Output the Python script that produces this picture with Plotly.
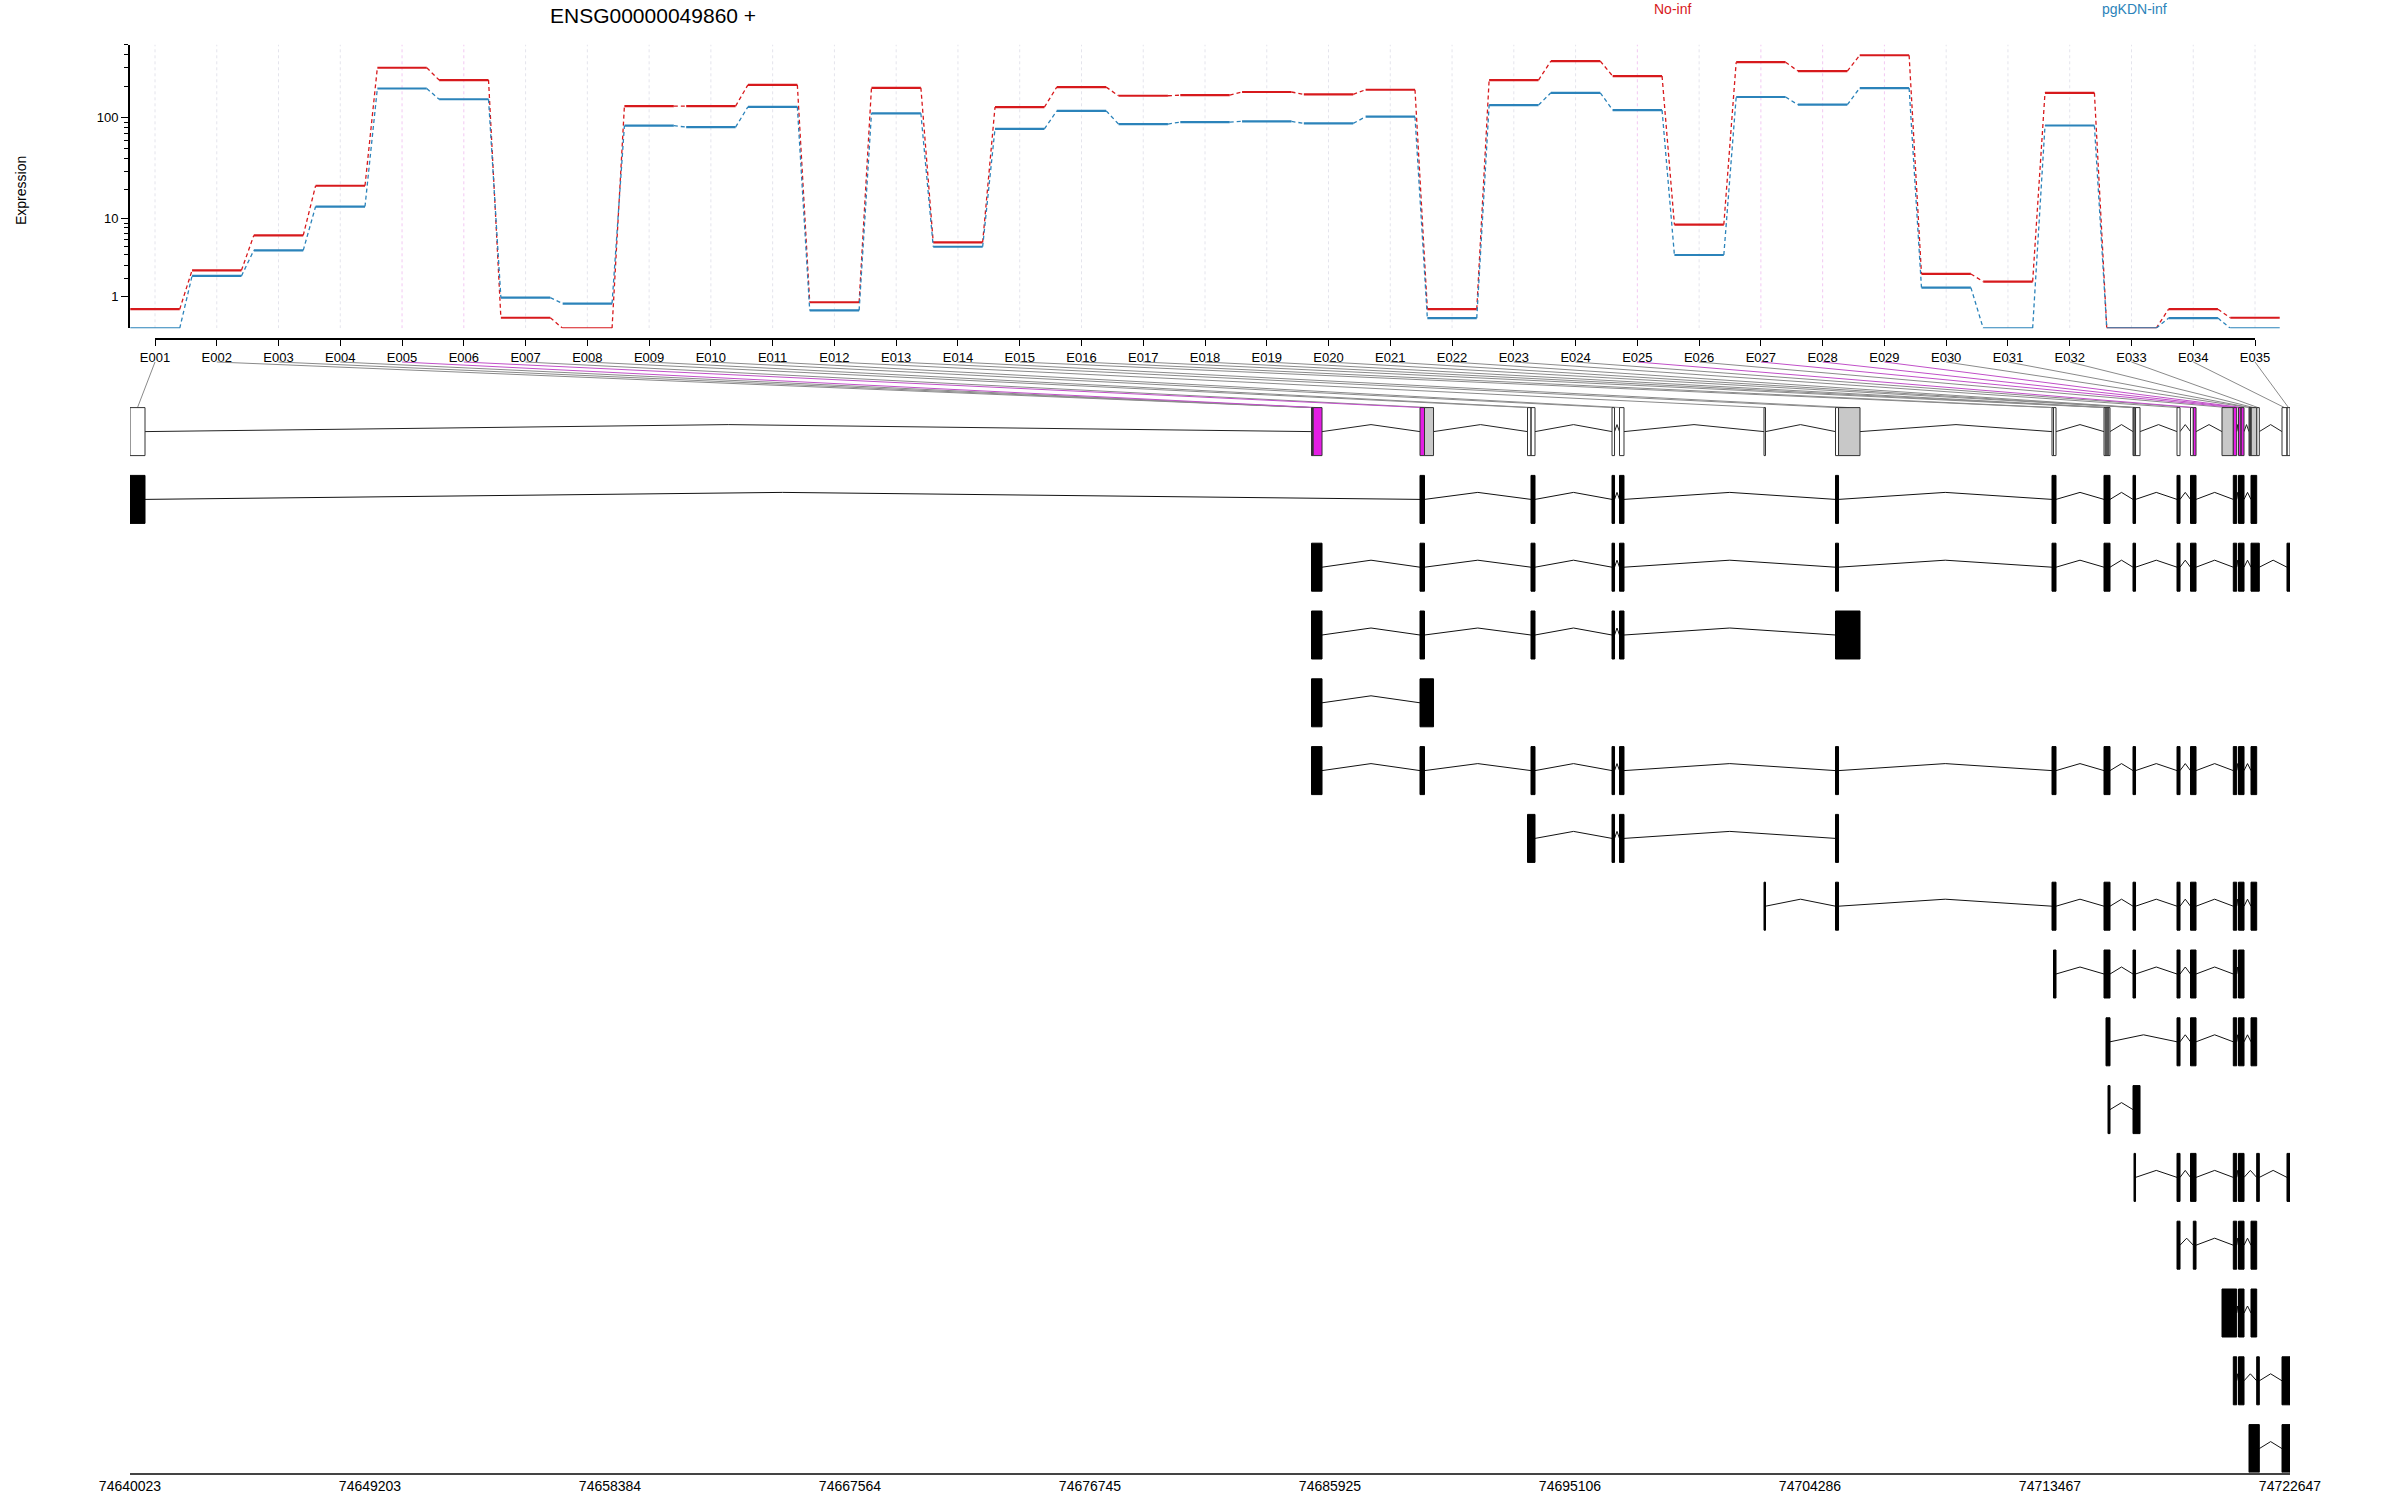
import math
import plotly.graph_objects as go

# ---------------- data ----------------
gene_id = "ENSG00000049860 +"
conditions = ["No-inf", "pgKDN-inf"]
exon_ids = [f"E{i:03d}" for i in range(1, 36)]

no_inf = [0.52, 2.56, 6.66, 21.7, 300, 229, 0.26, 0, 129, 129, 206, 0.77, 193, 5.58,
          126, 196, 162, 164, 176, 167, 185, 0.52, 229, 347, 250, 8.68, 339, 279, 395,
          2.29, 1.78, 173, 0, 0.52, 0.26]
pgkdn_inf = [0, 2.15, 4.52, 13.4, 190, 150, 0.96, 0.72, 83.6, 81, 127, 0.48, 110, 4.97,
             78, 116, 86.7, 90.6, 92, 88, 102, 0.25, 132, 173, 118, 3.98, 157.6, 133, 192,
             1.44, 0, 84, 0, 0.25, 0]

bin_start = [74640023, 74685218, 74685237, 74685256, 74685283, 74689368, 74689540,
             74693480, 74693614, 74696713, 74696999, 74702527, 74705262, 74705377,
             74713543, 74713601, 74715532, 74715609, 74715685, 74716642, 74716680,
             74716738, 74718325, 74718841, 74718948, 74720046, 74720478, 74720677,
             74720773, 74721079, 74721117, 74721155, 74721373, 74722341, 74722532]
bin_end = [74640597, 74685237, 74685256, 74685283, 74685620, 74689540, 74689885,
           74693614, 74693767, 74696809, 74697171, 74702584, 74705377, 74706199,
           74713601, 74713696, 74715609, 74715685, 74715762, 74716680, 74716738,
           74716910, 74718440, 74718948, 74719052, 74720478, 74720608, 74720773,
           74720888, 74721117, 74721155, 74721373, 74721473, 74722532, 74722647]
bin_status = ["none", "none", "none", "none", "sig", "sig", "tested", "none", "none", "none",
              "none", "none", "none", "tested", "none", "none", "tested", "tested", "tested",
              "none", "none", "none", "none", "none", "sig", "tested", "sig", "sig", "sig",
              "tested", "tested", "tested", "none", "none", "none"]

transcripts = [
    ["E001", "E006", "E009", "E010", "E011", "E013", "E015", "E016", "E017", "E018", "E019",
     "E020", "E021", "E023", "E024", "E025", "E027", "E028", "E029", "E032"],
    ["E002", "E003", "E004", "E005", "E006", "E009", "E010", "E011", "E013", "E015", "E016",
     "E017", "E018", "E019", "E020", "E021", "E023", "E024", "E025", "E027", "E028", "E029",
     "E032", "E033", "E035"],
    ["E002", "E003", "E004", "E005", "E006", "E009", "E010", "E011", "E013", "E014"],
    ["E002", "E003", "E004", "E005", "E006", "E007"],
    ["E002", "E003", "E004", "E005", "E006", "E009", "E010", "E011", "E013", "E015", "E016",
     "E017", "E018", "E019", "E020", "E021", "E023", "E024", "E025", "E027", "E028", "E029",
     "E032"],
    ["E008", "E009", "E010", "E011", "E013"],
    ["E012", "E013", "E015", "E016", "E017", "E018", "E019", "E020", "E021", "E023", "E024",
     "E025", "E027", "E028", "E029", "E032"],
    ["E016", "E017", "E018", "E019", "E020", "E021", "E023", "E024", "E025", "E027", "E028",
     "E029"],
    ["E018", "E019", "E023", "E024", "E025", "E027", "E028", "E029", "E032"],
    ["E019", "E020", "E021", "E022"],
    ["E021", "E023", "E024", "E025", "E027", "E028", "E029", "E033", "E035"],
    ["E023", "E025", "E027", "E028", "E029", "E032"],
    ["E026", "E027", "E028", "E029", "E032"],
    ["E027", "E028", "E029", "E033", "E034", "E035"],
    ["E030", "E031", "E032", "E033", "E034", "E035"],
]

genome_ticks = [74640023, 74649203, 74658384, 74667564, 74676745, 74685925, 74695106,
                74704286, 74713467, 74722647]
y_major = [1, 10, 100]
y_minor = [2, 3, 4, 5, 6, 7, 8, 9, 20, 30, 40, 50, 60, 70, 80, 90, 200, 300, 400, 500]

# ---------------- styling / layout constants ----------------
W, H = 2400, 1500
FONT = "Liberation Sans, Arial, Helvetica, sans-serif"
RED, BLUE = "#D7191C", "#2B83BA"
MAGENTA_FILL, GREY_FILL = "#E41EE4", "#C8C8C8"
MAGENTA_LINE, GREY_LINE = "#C050C8", "#8A8A8A"

# top panel
EX_FIRST_PX, EX_LAST_PX = 155, 2255
TOP_X_PX = (130, 2280)
TOP_Y_PX = (44.5, 328.3)
AXIS_X_Y_PX = 339
spacing = (EX_LAST_PX - EX_FIRST_PX) / 34.0
x_rng = [1 + (TOP_X_PX[0] - EX_FIRST_PX) / spacing, 35 + (TOP_X_PX[1] - EX_LAST_PX) / spacing]
y_top = math.log10(501)

# bottom panel
G_X_PX = (130, 2290)
ROW0_PX, ROW_PITCH = 431.6, 67.8
G_Y_PX = (350, 1472.5)
r_top = (G_Y_PX[0] - ROW0_PX) / ROW_PITCH
r_bot = (G_Y_PX[1] - ROW0_PX) / ROW_PITCH
HALF = 24.0 / ROW_PITCH
CARET = 7.0 / ROW_PITCH
LABEL_BOTTOM_R = (362 - ROW0_PX) / ROW_PITCH
g0, g1 = genome_ticks[0], genome_ticks[-1]


def ylog(v):
    return math.log10(v + 1)


def px_to_genome(px):
    return g0 + (px - G_X_PX[0]) * (g1 - g0) / (G_X_PX[1] - G_X_PX[0])


fig = go.Figure()

# dotted vertical guides
sig_set = {exon_ids[i] for i, s in enumerate(bin_status) if s == "sig"}
for colr, want in (("#E4E4EC", False), ("#F2C8F2", True)):
    xs, ys = [], []
    for i, e in enumerate(exon_ids):
        if (e in sig_set) == want:
            xs += [i + 1, i + 1, None]
            ys += [0, y_top, None]
    fig.add_trace(go.Scatter(x=xs, y=ys, mode="lines", xaxis="x", yaxis="y",
                             line=dict(color=colr, width=1, dash="dot"),
                             hoverinfo="skip", showlegend=False))

# expression profiles
for vals, colr in ((no_inf, RED), (pgkdn_inf, BLUE)):
    xs, ys, dx, dy = [], [], [], []
    for i, v in enumerate(vals):
        c = i + 1
        xs += [c - 0.4, c + 0.4, None]
        ys += [ylog(v), ylog(v), None]
        if i < len(vals) - 1:
            dx += [c + 0.4, c + 1 - 0.4, None]
            dy += [ylog(v), ylog(vals[i + 1]), None]
    fig.add_trace(go.Scatter(x=dx, y=dy, mode="lines", xaxis="x", yaxis="y",
                             line=dict(color=colr, width=1.3, dash="4px,3px"),
                             hoverinfo="skip", showlegend=False))
    fig.add_trace(go.Scatter(x=xs, y=ys, mode="lines", xaxis="x", yaxis="y",
                             line=dict(color=colr, width=2.2),
                             hoverinfo="skip", showlegend=False))

# dummy trace to hold the exon label axis
fig.add_trace(go.Scatter(x=[1, 35], y=[0, 0], mode="markers", xaxis="x2", yaxis="y",
                         marker=dict(opacity=0), hoverinfo="skip", showlegend=False))

# connectors from exon labels to gene model bins
for colr, want in ((GREY_LINE, False), (MAGENTA_LINE, True)):
    xs, ys = [], []
    for i, e in enumerate(exon_ids):
        if (bin_status[i] == "sig") == want:
            lab_px = EX_FIRST_PX + i * spacing
            xs += [px_to_genome(lab_px), (bin_start[i] + bin_end[i]) / 2, None]
            ys += [LABEL_BOTTOM_R, -HALF, None]
    fig.add_trace(go.Scatter(x=xs, y=ys, mode="lines", xaxis="x3", yaxis="y3",
                             line=dict(color=colr, width=1),
                             hoverinfo="skip", showlegend=False))


def caret_lines(starts, ends, row):
    xs, ys = [], []
    for k in range(len(starts) - 1):
        a, b = ends[k], starts[k + 1]
        if b > a:
            xs += [a, (a + b) / 2, b, None]
            ys += [row, row - CARET, row, None]
    return xs, ys


def boxes(starts, ends, row):
    xs, ys = [], []
    for a, b in zip(starts, ends):
        xs += [a, b, b, a, a, None]
        ys += [row - HALF, row - HALF, row + HALF, row + HALF, row - HALF, None]
    return xs, ys


# gene model
ix, iy = caret_lines(bin_start, bin_end, 0)
fig.add_trace(go.Scatter(x=ix, y=iy, mode="lines", xaxis="x3", yaxis="y3",
                         line=dict(color="#222222", width=1), hoverinfo="skip", showlegend=False))
for status, fillc in (("none", "white"), ("tested", GREY_FILL), ("sig", MAGENTA_FILL)):
    st = [bin_start[i] for i in range(35) if bin_status[i] == status]
    en = [bin_end[i] for i in range(35) if bin_status[i] == status]
    bx, by = boxes(st, en, 0)
    fig.add_trace(go.Scatter(x=bx, y=by, mode="lines", fill="toself", fillcolor=fillc,
                             xaxis="x3", yaxis="y3", line=dict(color="#333333", width=1),
                             hoverinfo="skip", showlegend=False))

# transcripts
for t, members in enumerate(transcripts):
    row = t + 1
    idx = sorted(exon_ids.index(e) for e in members)
    st, en = [], []
    for i in idx:
        if en and bin_start[i] <= en[-1] + 1 and (i - 1) in idx:
            en[-1] = bin_end[i]
        else:
            st.append(bin_start[i])
            en.append(bin_end[i])
    ix, iy = caret_lines(st, en, row)
    fig.add_trace(go.Scatter(x=ix, y=iy, mode="lines", xaxis="x3", yaxis="y3",
                             line=dict(color="#111111", width=1),
                             hoverinfo="skip", showlegend=False))
    bx, by = boxes(st, en, row)
    fig.add_trace(go.Scatter(x=bx, y=by, mode="lines", fill="toself", fillcolor="black",
                             xaxis="x3", yaxis="y3", line=dict(color="black", width=1),
                             hoverinfo="skip", showlegend=False))

fig.update_layout(
    template="none",
    autosize=False,
    width=W, height=H,
    margin=dict(l=0, r=0, t=0, b=0, pad=0, autoexpand=False),
    paper_bgcolor="white", plot_bgcolor="rgba(0,0,0,0)",
    font=dict(family=FONT, color="black", size=13),
    showlegend=False,
    xaxis=dict(domain=[TOP_X_PX[0] / W, TOP_X_PX[1] / W], range=x_rng, anchor="y",
               visible=False, fixedrange=True, automargin=False),
    yaxis=dict(domain=[1 - TOP_Y_PX[1] / H, 1 - TOP_Y_PX[0] / H], range=[0, y_top],
               anchor="x", showline=True, linecolor="black", linewidth=2,
               ticks="outside", ticklen=7, tickwidth=1, tickcolor="black",
               tickmode="array", tickvals=[ylog(v) for v in y_major],
               ticktext=[str(v) for v in y_major], tickfont=dict(size=13),
               minor=dict(tickmode="array", tickvals=[ylog(v) for v in y_minor],
                          ticks="outside", ticklen=4, tickcolor="black", showgrid=False),
               showgrid=False, zeroline=False, fixedrange=True, automargin=False),
    xaxis2=dict(domain=[EX_FIRST_PX / W, EX_LAST_PX / W], range=[1, 35], anchor="free",
                position=1 - AXIS_X_Y_PX / H, showline=True, linecolor="black",
                linewidth=2, ticks="outside", ticklen=6, tickwidth=1, tickcolor="black",
                tickmode="array", tickvals=list(range(1, 36)), ticktext=exon_ids,
                tickfont=dict(size=13), tickangle=0, showgrid=False, zeroline=False,
                fixedrange=True, automargin=False),
    xaxis3=dict(domain=[G_X_PX[0] / W, G_X_PX[1] / W], range=[g0, g1], anchor="y3",
                showline=True, linecolor="#444444", linewidth=2, ticks="",
                tickmode="array", tickvals=genome_ticks,
                ticktext=[str(v) for v in genome_ticks], tickfont=dict(size=14),
                tickangle=0, showgrid=False, zeroline=False, fixedrange=True,
                automargin=False),
    yaxis3=dict(domain=[1 - G_Y_PX[1] / H, 1 - G_Y_PX[0] / H], range=[r_bot, r_top],
                anchor="x3", visible=False, fixedrange=True, automargin=False),
    annotations=[
        dict(text=gene_id, xref="paper", yref="paper", x=653 / W, y=1 - 15 / H,
             xanchor="center", yanchor="middle", showarrow=False,
             font=dict(size=21, color="black")),
        dict(text=conditions[0], xref="paper", yref="paper", x=1672 / W, y=1 - 9 / H,
             xanchor="center", yanchor="middle", showarrow=False,
             font=dict(size=14, color=RED)),
        dict(text=conditions[1], xref="paper", yref="paper", x=2134 / W, y=1 - 9 / H,
             xanchor="center", yanchor="middle", showarrow=False,
             font=dict(size=14, color=BLUE)),
        dict(text="Expression", xref="paper", yref="paper", x=21 / W, y=1 - 191 / H,
             xanchor="center", yanchor="middle", showarrow=False, textangle=-90,
             font=dict(size=14, color="black")),
    ],
)

fig.write_html("out.html", config={"displayModeBar": False},
               post_script="document.body.style.margin='0';")
